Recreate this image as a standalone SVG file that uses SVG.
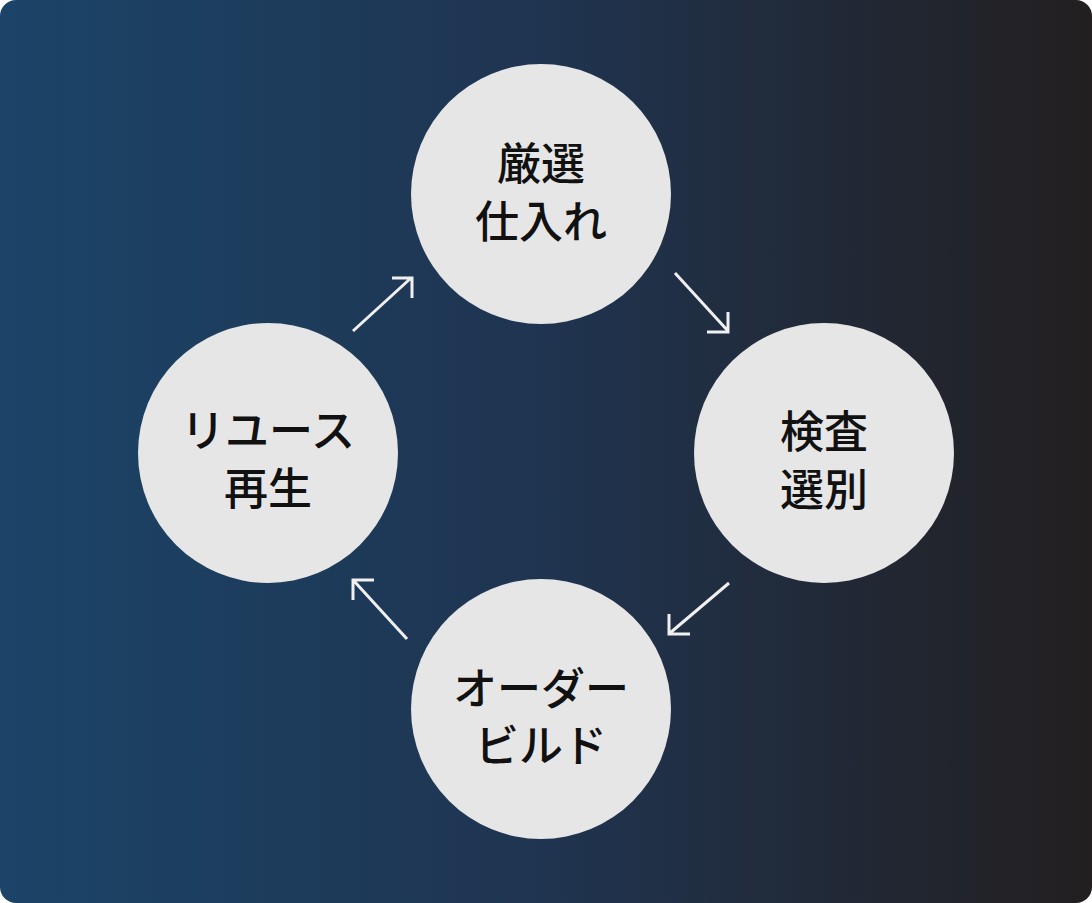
<svg xmlns="http://www.w3.org/2000/svg" width="1092" height="903" viewBox="0 0 1092 903">
<defs>
<linearGradient id="bg" x1="0" y1="0" x2="1" y2="0">
<stop offset="0" stop-color="#1b4468"/>
<stop offset="0.5" stop-color="#1f3450"/>
<stop offset="1" stop-color="#231f20"/>
</linearGradient>
<style>
.node{fill:#e6e6e6}
.t{font-family:"Noto Sans CJK JP","Noto Sans",sans-serif;font-size:44px;font-weight:500;fill:#111;text-anchor:middle}
.a{fill:none;stroke:#f0f0f0;stroke-width:3;stroke-linecap:butt}
</style>
</defs>
<rect x="0" y="0" width="1092" height="903" rx="16" fill="url(#bg)"/>
<g id="connectors">
<path class="a" d="M353 331 L411 278 M392 278 L412 278 L412 298"/>
<path class="a" d="M675 273 L728 331 M707 332 L728 332 L728 312"/>
<path class="a" d="M729 583 L670 633 M690 634 L669 634 L669 614"/>
<path class="a" d="M407 639 L354 581 M374 580 L353 580 L353 600"/>
</g>
<g id="node-top">
<circle class="node" cx="541" cy="194" r="130"/>
<text class="t" x="541" y="180">厳選</text>
<text class="t" x="541" y="238">仕入れ</text>
</g>
<g id="node-right">
<circle class="node" cx="824" cy="453" r="130"/>
<text class="t" x="824" y="448">検査</text>
<text class="t" x="824" y="506">選別</text>
</g>
<g id="node-bottom">
<circle class="node" cx="541" cy="709" r="130"/>
<text class="t" x="541" y="705">オーダー</text>
<text class="t" x="541" y="762">ビルド</text>
</g>
<g id="node-left">
<circle class="node" cx="268" cy="453" r="130"/>
<text class="t" x="268" y="447">リユース</text>
<text class="t" x="268" y="505">再生</text>
</g>
</svg>
